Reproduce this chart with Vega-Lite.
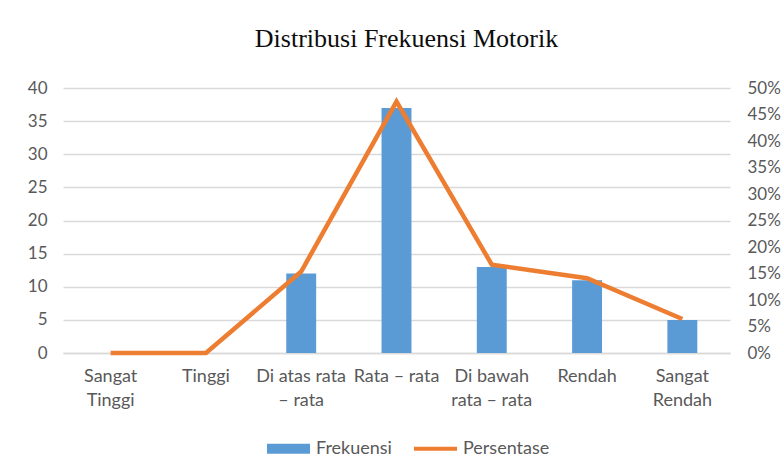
{
  "$schema": "https://vega.github.io/schema/vega-lite/v6.json",
  "width": 667,
  "height": 265,
  "autosize": "none",
  "padding": {"left": 63, "top": 88, "right": 54, "bottom": 120},
  "background": "white",
  "title": {
    "text": "Distribusi Frekuensi Motorik",
    "font": "Liberation Serif",
    "fontSize": 26,
    "fontWeight": "normal",
    "color": "#0d0d0d",
    "anchor": "middle",
    "dx": 10,
    "offset": 27
  },
  "data": {
    "values": [
      {"kategori": "Sangat Tinggi", "frekuensi": 0, "persen": 0},
      {"kategori": "Tinggi", "frekuensi": 0, "persen": 0},
      {"kategori": "Di atas rata – rata", "frekuensi": 12, "persen": 0.1538},
      {"kategori": "Rata – rata", "frekuensi": 37, "persen": 0.4744},
      {"kategori": "Di bawah rata – rata", "frekuensi": 13, "persen": 0.1667},
      {"kategori": "Rendah", "frekuensi": 11, "persen": 0.141},
      {"kategori": "Sangat Rendah", "frekuensi": 5, "persen": 0.0641}
    ]
  },
  "encoding": {
    "x": {
      "field": "kategori",
      "type": "nominal",
      "sort": null,
      "scale": {"paddingInner": 0.686, "paddingOuter": 0.343},
      "axis": {
        "title": null,
        "labelAngle": 0,
        "ticks": false,
        "grid": false,
        "domainColor": "#D9D9D9",
        "domainWidth": 1.5,
        "labelFont": "Lato",
        "labelFontSize": 18,
        "labelColor": "#595959",
        "labelPadding": 14,
        "labelLineHeight": 24,
        "labelLimit": 200,
        "labelExpr": "datum.label == 'Sangat Tinggi' ? ['Sangat', 'Tinggi'] : datum.label == 'Di atas rata – rata' ? ['Di atas rata', '– rata'] : datum.label == 'Di bawah rata – rata' ? ['Di bawah', 'rata – rata'] : datum.label == 'Sangat Rendah' ? ['Sangat', 'Rendah'] : datum.label"
      }
    }
  },
  "layer": [
    {
      "mark": {"type": "bar"},
      "encoding": {
        "y": {
          "field": "frekuensi",
          "type": "quantitative",
          "scale": {"domain": [0, 40]},
          "axis": {
            "title": null,
            "values": [0, 5, 10, 15, 20, 25, 30, 35, 40],
            "grid": true,
            "gridColor": "#D9D9D9",
            "gridWidth": 1.5,
            "domain": false,
            "ticks": false,
            "labelFont": "Lato",
            "labelFontSize": 17,
            "labelColor": "#595959",
            "labelPadding": 16
          }
        },
        "color": {
          "datum": "Frekuensi",
          "type": "nominal",
          "scale": {"domain": ["Frekuensi", "Persentase"], "range": ["#5B9BD5", "#ED7D31"]},
          "legend": {
            "title": null,
            "orient": "none",
            "legendX": 204,
            "legendY": 339,
            "direction": "horizontal",
            "labelFont": "Lato",
            "labelFontSize": 18,
            "labelColor": "#595959",
            "labelOffset": 6,
            "columnPadding": 22,
            "symbolSize": 1849,
            "symbolStrokeWidth": 0,
            "encode": {
              "symbols": {
                "update": {
                  "shape": {"signal": "datum.value === 'Frekuensi' ? 'M-1,-0.23H1V0.23H-1Z' : 'M-1,-0.09H1V0.09H-1Z'"},
                  "fill": {"signal": "datum.value === 'Frekuensi' ? '#5B9BD5' : '#ED7D31'"},
                  "opacity": {"value": 1},
                  "strokeWidth": {"value": 0}
                }
              }
            }
          }
        }
      }
    },
    {
      "mark": {"type": "line", "strokeWidth": 4.5},
      "encoding": {
        "y": {
          "field": "persen",
          "type": "quantitative",
          "scale": {"domain": [0, 0.5]},
          "axis": {
            "title": null,
            "orient": "right",
            "format": ".0%",
            "values": [0, 0.05, 0.1, 0.15, 0.2, 0.25, 0.3, 0.35, 0.4, 0.45, 0.5],
            "grid": false,
            "domain": false,
            "ticks": false,
            "labelFont": "Lato",
            "labelFontSize": 17,
            "labelColor": "#595959",
            "labelPadding": 17
          }
        },
        "color": {"datum": "Persentase", "type": "nominal"}
      }
    }
  ],
  "resolve": {"scale": {"y": "independent"}},
  "config": {"view": {"stroke": null}}
}
